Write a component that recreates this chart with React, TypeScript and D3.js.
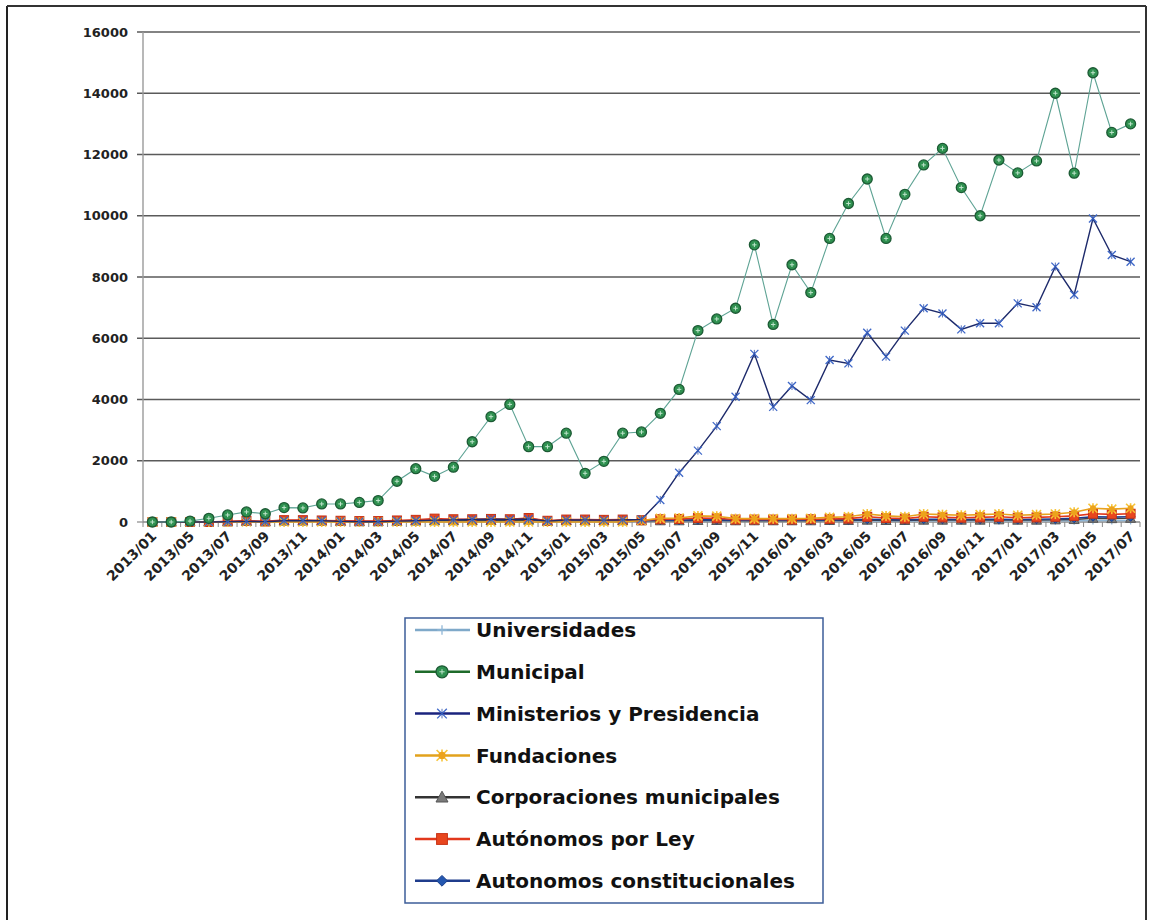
import React from "react";
import * as d3 from "d3";

const categories: string[] = [
  "2013/01", "2013/03", "2013/05", "2013/06", "2013/07", "2013/08", "2013/09", "2013/10", "2013/11", "2013/12",
  "2014/01", "2014/02", "2014/03", "2014/04", "2014/05", "2014/06", "2014/07", "2014/08", "2014/09", "2014/10",
  "2014/11", "2014/12", "2015/01", "2015/02", "2015/03", "2015/04", "2015/05", "2015/06", "2015/07", "2015/08",
  "2015/09", "2015/10", "2015/11", "2015/12", "2016/01", "2016/02", "2016/03", "2016/04", "2016/05", "2016/06",
  "2016/07", "2016/08", "2016/09", "2016/10", "2016/11", "2016/12", "2017/01", "2017/02", "2017/03", "2017/04",
  "2017/05", "2017/06", "2017/07",
];

const yTicks: number[] = [0, 2000, 4000, 6000, 8000, 10000, 12000, 14000, 16000];

const universidades: number[] = [
  0, 0, 0, 0, 10, 10, 10, 20, 20, 20, 10, 10, 10, 20, 20, 20, 30, 30, 30, 30,
  40, 20, 30, 30, 30, 30, 30, 30, 30, 30, 30, 30, 30, 30, 30, 30, 30, 30, 30, 30,
  30, 40, 40, 40, 40, 40, 40, 40, 40, 40, 50, 50, 50,
];

const municipal: number[] = [
  0, 0, 30, 120, 230, 330, 270, 470, 460, 590, 590, 640, 700, 1330, 1740, 1490, 1790, 2620, 3440, 3840,
  2460, 2460, 2900, 1590, 1980, 2900, 2940, 3550, 4330, 6250, 6630, 6980, 9050, 6450, 8400, 7490, 9260, 10400, 11200, 9260,
  10700, 11660, 12200, 10920, 10000, 11820, 11400, 11790, 14000, 11390, 14670, 12720, 13000,
];

const ministerios: number[] = [
  0, 0, 0, 0, 10, 20, 10, 40, 40, 40, 20, 10, 10, 30, 40, 60, 70, 80, 90, 80,
  100, 30, 70, 70, 60, 70, 80, 720, 1610, 2330, 3130, 4090, 5490, 3760, 4440, 3980, 5290, 5180, 6180, 5400,
  6250, 6980, 6810, 6290, 6490, 6490, 7140, 7010, 8340, 7420, 9910, 8720, 8500,
];

const fundaciones: number[] = [
  0, 0, 0, 0, 0, 0, 0, 0, 0, 0, 0, 0, 0, 0, 0, 0, 0, 0, 0, 0,
  0, 0, 0, 0, 0, 0, 50, 120, 130, 200, 190, 110, 110, 110, 110, 120, 150, 170, 260, 200,
  170, 260, 240, 220, 240, 260, 220, 240, 260, 320, 450, 420, 450,
];

const corporaciones: number[] = [
  0, 0, 0, 0, 10, 20, 10, 30, 30, 30, 20, 10, 10, 20, 30, 40, 40, 40, 50, 40,
  60, 20, 40, 40, 40, 40, 40, 40, 40, 50, 50, 40, 40, 40, 40, 40, 50, 50, 60, 50,
  50, 60, 60, 60, 60, 70, 60, 60, 70, 80, 120, 110, 120,
];

const autonomosLey: number[] = [
  0, 0, 0, 0, 20, 40, 20, 60, 60, 50, 40, 30, 30, 50, 70, 110, 90, 90, 100, 90,
  130, 40, 80, 80, 70, 80, 60, 90, 100, 130, 120, 80, 80, 80, 80, 90, 100, 110, 170, 130,
  110, 170, 150, 140, 150, 170, 140, 150, 170, 200, 270, 250, 270,
];

const autonomosConst: number[] = [
  0, 0, 0, 0, 10, 30, 10, 50, 50, 40, 30, 20, 20, 40, 50, 70, 80, 80, 90, 80,
  110, 30, 70, 70, 60, 70, 50, 60, 60, 70, 70, 60, 60, 60, 60, 60, 70, 70, 90, 80,
  70, 90, 90, 80, 90, 90, 80, 90, 100, 120, 170, 160, 170,
];

type Marker = "plus" | "circle" | "asterisk" | "star" | "triangle" | "square" | "diamond";

interface Series {
  name: string;
  values: number[];
  line: string;
  lineWidth: number;
  marker: Marker;
  mFill: string;
  mStroke: string;
  legendLine: string;
}

const seriesList: Series[] = [
  { name: "Universidades", values: universidades, line: "#8fb6d6", lineWidth: 1.5, marker: "plus", mFill: "#a8cbe8", mStroke: "#8fb6d6", legendLine: "#7fa9c9" },
  { name: "Municipal", values: municipal, line: "#5ea394", lineWidth: 1.1, marker: "circle", mFill: "#2f9150", mStroke: "#1c5a34", legendLine: "#1e6b2a" },
  { name: "Ministerios y Presidencia", values: ministerios, line: "#1d2a6b", lineWidth: 1.4, marker: "asterisk", mFill: "#3c66c8", mStroke: "#2d4fa8", legendLine: "#1a237e" },
  { name: "Fundaciones", values: fundaciones, line: "#e8a21e", lineWidth: 1.6, marker: "star", mFill: "#f7c437", mStroke: "#eca31c", legendLine: "#e2a21c" },
  { name: "Corporaciones municipales", values: corporaciones, line: "#444444", lineWidth: 1.4, marker: "triangle", mFill: "#7a7a7a", mStroke: "#555555", legendLine: "#333333" },
  { name: "Autónomos por Ley", values: autonomosLey, line: "#e2381c", lineWidth: 1.6, marker: "square", mFill: "#e8461e", mStroke: "#c73214", legendLine: "#e2381c" },
  { name: "Autonomos constitucionales", values: autonomosConst, line: "#1f3c8c", lineWidth: 1.6, marker: "diamond", mFill: "#2457b0", mStroke: "#1a3f8a", legendLine: "#1f3c8c" },
];

const drawOrder = [0, 4, 6, 5, 3, 2, 1];

function MarkerShape({ type, x, y, fill, stroke, size = 1 }: { type: Marker; x: number; y: number; fill: string; stroke: string; size?: number }) {
  const s = size;
  switch (type) {
    case "plus":
      return (
        <g stroke={stroke} strokeWidth={1.3}>
          <line x1={x - 4 * s} x2={x + 4 * s} y1={y} y2={y} />
          <line x1={x} x2={x} y1={y - 4 * s} y2={y + 4 * s} />
        </g>
      );
    case "circle":
      return (
        <g>
          <circle cx={x} cy={y} r={5 * s} fill={fill} stroke={stroke} strokeWidth={1.3} />
          <line x1={x - 2.2 * s} x2={x + 2.2 * s} y1={y} y2={y} stroke="#bfe5cc" strokeWidth={1} />
          <line x1={x} x2={x} y1={y - 2.2 * s} y2={y + 2.2 * s} stroke="#bfe5cc" strokeWidth={1} />
        </g>
      );
    case "asterisk":
      return (
        <g stroke={fill} strokeWidth={1.3}>
          <line x1={x - 4 * s} x2={x + 4 * s} y1={y - 4 * s} y2={y + 4 * s} />
          <line x1={x - 4 * s} x2={x + 4 * s} y1={y + 4 * s} y2={y - 4 * s} />
          <line x1={x} x2={x} y1={y - 4 * s} y2={y + 4 * s} stroke={stroke} strokeWidth={0.8} />
        </g>
      );
    case "star":
      return (
        <g stroke={fill} strokeWidth={1.6}>
          <line x1={x - 4.5 * s} x2={x + 4.5 * s} y1={y - 4.5 * s} y2={y + 4.5 * s} />
          <line x1={x - 4.5 * s} x2={x + 4.5 * s} y1={y + 4.5 * s} y2={y - 4.5 * s} />
          <line x1={x} x2={x} y1={y - 5 * s} y2={y + 5 * s} />
          <circle cx={x} cy={y} r={3 * s} fill={stroke} stroke="none" />
        </g>
      );
    case "triangle": {
      const r = 5 * s;
      const p = `${x},${y - r} ${x + r},${y + r * 0.8} ${x - r},${y + r * 0.8}`;
      return <polygon points={p} fill={fill} stroke={stroke} strokeWidth={1} />;
    }
    case "square": {
      const r = 4.5 * s;
      return <rect x={x - r} y={y - r} width={2 * r} height={2 * r} fill={fill} stroke={stroke} strokeWidth={1} />;
    }
    case "diamond": {
      const r = 4.5 * s;
      const p = `${x},${y - r} ${x + r},${y} ${x},${y + r} ${x - r},${y}`;
      return <polygon points={p} fill={fill} stroke={stroke} strokeWidth={1} />;
    }
  }
  return null;
}

export default function App() {
  const W = 1149;
  const H = 920;
  const left = 143;
  const right = 1140;
  const top = 32;
  const bottom = 522;

  const x = d3.scalePoint<string>().domain(categories).range([left, right]).padding(0.5);
  const y = d3.scaleLinear().domain([0, 16000]).range([bottom, top]);
  const step = x.step();

  const lineGen = (vals: number[]) =>
    d3
      .line<number>()
      .x((_, i) => x(categories[i]) as number)
      .y((v) => y(v))(vals) as string;

  const font = "'DejaVu Sans', Verdana, sans-serif";

  const legendX = 405;
  const legendY = 618;
  const legendW = 418;
  const legendH = 285;
  const rowH = 41.8;

  return (
    <svg
      width={W}
      height={H}
      viewBox={`0 0 ${W} ${H}`}
      style={{ position: "absolute", left: 0, top: 0, display: "block", background: "#ffffff" }}
    >
      <rect x={0} y={0} width={W} height={H} fill="#ffffff" />
      {/* frame */}
      <line x1={7} x2={7} y1={6} y2={H} stroke="#222" strokeWidth={2} />
      <line x1={7} x2={1146} y1={6} y2={6} stroke="#333" strokeWidth={2} />
      <line x1={1146} x2={1146} y1={6} y2={H} stroke="#333" strokeWidth={2} />

      {/* gridlines & y labels */}
      {yTicks.map((t) => (
        <g key={t}>
          {t !== 0 && (
            <line x1={left - 6} x2={right} y1={y(t)} y2={y(t)} stroke="#5a5a5a" strokeWidth={1.4} />
          )}
          {t === 0 && <line x1={left - 6} x2={left} y1={y(t)} y2={y(t)} stroke="#888" strokeWidth={1.2} />}
          <text
            x={128}
            y={y(t)}
            dy="0.36em"
            textAnchor="end"
            fontFamily={font}
            fontWeight="bold"
            fontSize={13}
            fill="#222"
          >
            {t}
          </text>
        </g>
      ))}

      {/* y axis */}
      <line x1={left} x2={left} y1={top} y2={bottom} stroke="#9a9a9a" strokeWidth={1.4} />
      {/* x axis */}
      <line x1={left} x2={right} y1={bottom} y2={bottom} stroke="#8a8a8a" strokeWidth={1.4} />
      {d3.range(categories.length + 1).map((i) => (
        <line
          key={i}
          x1={left + i * step}
          x2={left + i * step}
          y1={bottom}
          y2={bottom + 5}
          stroke="#8a8a8a"
          strokeWidth={1}
        />
      ))}

      {/* x labels */}
      {categories.map((c, i) =>
        i % 2 === 0 ? (
          <text
            key={c}
            transform={`translate(${(x(c) as number) + 5},${bottom + 15}) rotate(-45)`}
            textAnchor="end"
            fontFamily={font}
            fontWeight="bold"
            fontSize={14}
            fill="#222"
          >
            {c}
          </text>
        ) : null
      )}

      {/* series */}
      {drawOrder.map((si) => {
        const s = seriesList[si];
        return (
          <g key={s.name}>
            <path d={lineGen(s.values)} fill="none" stroke={s.line} strokeWidth={s.lineWidth} />
            {s.values.map((v, i) => (
              <MarkerShape
                key={i}
                type={s.marker}
                x={x(categories[i]) as number}
                y={y(v)}
                fill={s.mFill}
                stroke={s.mStroke}
              />
            ))}
          </g>
        );
      })}

      {/* legend */}
      <rect x={legendX} y={legendY} width={legendW} height={legendH} fill="#ffffff" stroke="#3d5d99" strokeWidth={1.5} />
      {seriesList.map((s, i) => {
        const cy = legendY + 12 + i * rowH;
        return (
          <g key={s.name}>
            <line x1={415} x2={470} y1={cy} y2={cy} stroke={s.legendLine} strokeWidth={2.5} />
            <MarkerShape type={s.marker} x={442} y={cy} fill={s.mFill} stroke={s.mStroke} size={1.2} />
            <text x={476} y={cy} dy="0.36em" fontFamily={font} fontWeight="bold" fontSize={20} fill="#111">
              {s.name}
            </text>
          </g>
        );
      })}
    </svg>
  );
}
